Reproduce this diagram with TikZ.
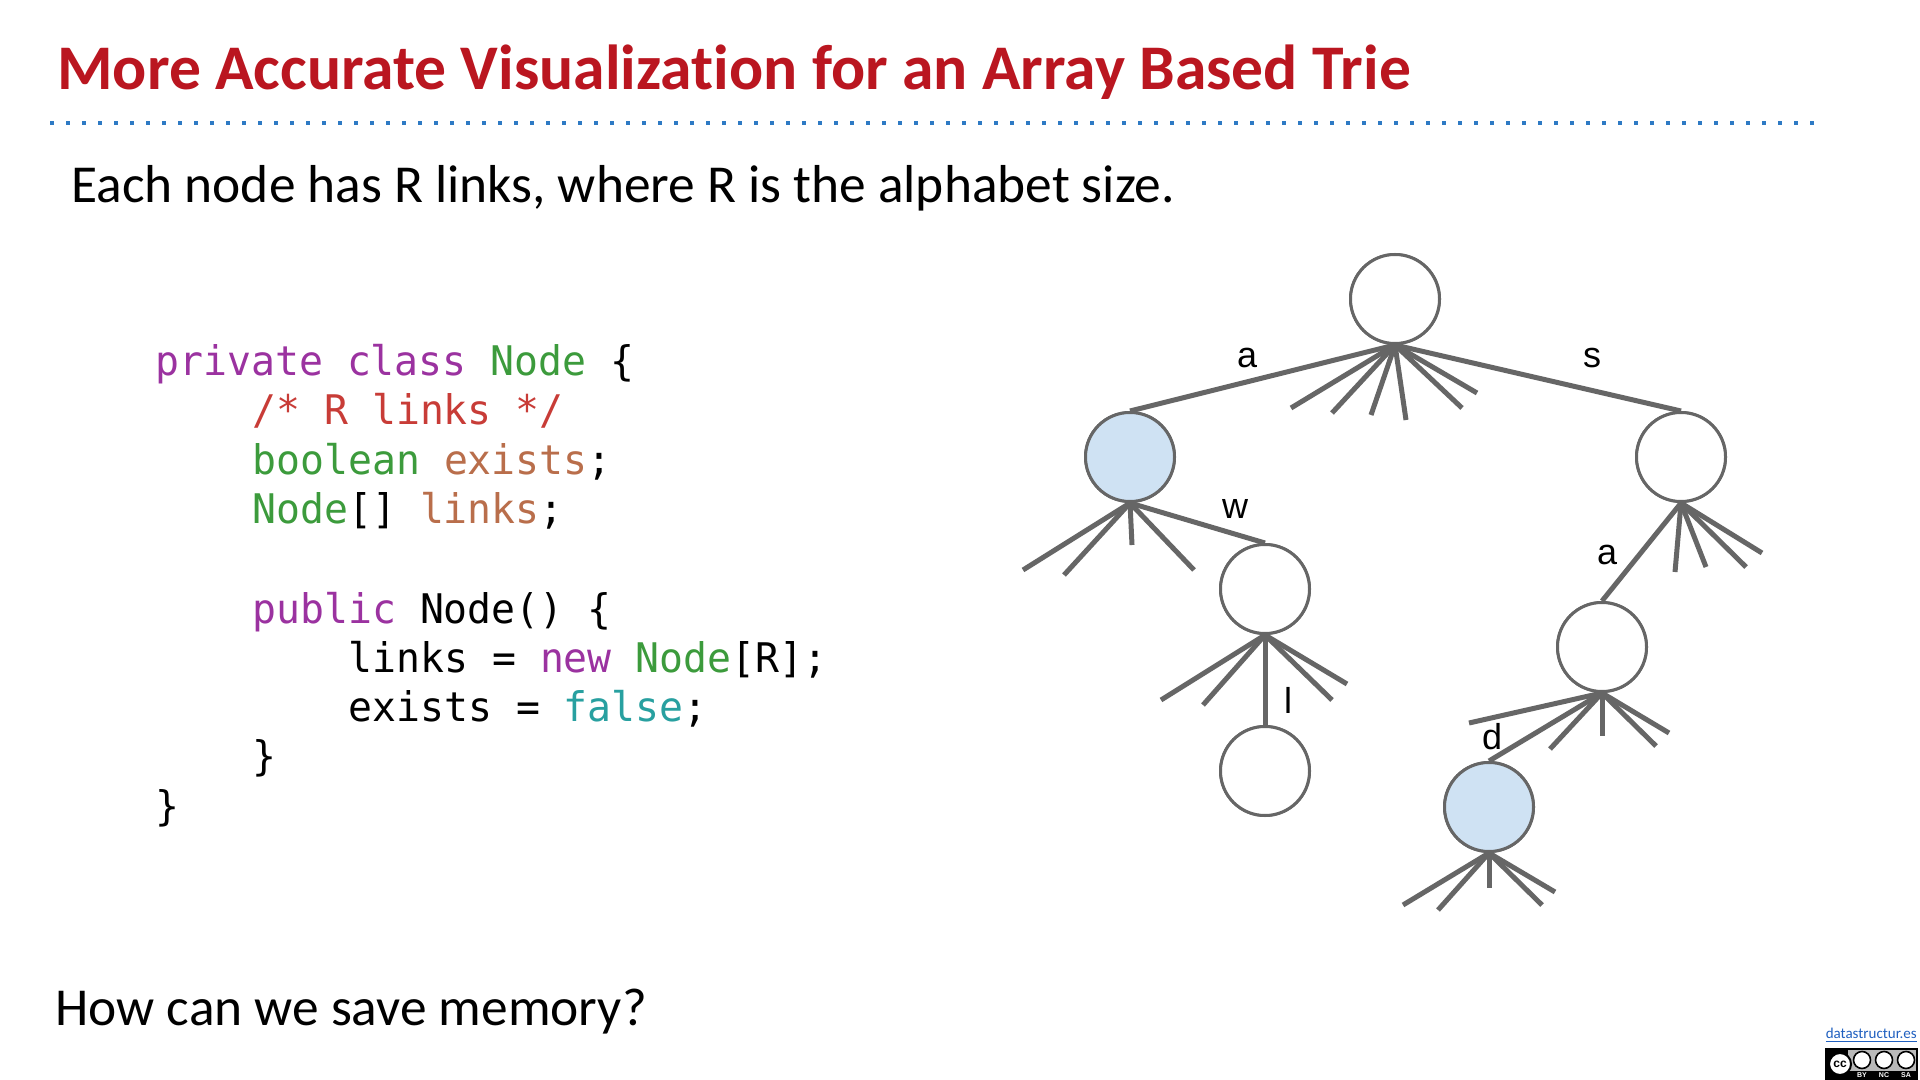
\documentclass[tikz,border=0pt]{standalone}
\usepackage{fontspec}
\setmainfont{Carlito}[Ligatures=NoCommon]
\newfontfamily\codefont{DejaVu Sans Mono}[FakeStretch=0.975]
\newfontfamily\labelfont{Liberation Sans}
\definecolor{titlered}{RGB}{186,22,32}
\definecolor{dotblue}{RGB}{46,122,196}
\definecolor{edgegray}{RGB}{102,102,102}
\definecolor{nodeblue}{RGB}{207,226,243}
\definecolor{kwpurple}{RGB}{155,50,160}
\definecolor{tygreen}{RGB}{60,155,60}
\definecolor{cmtred}{RGB}{200,60,55}
\definecolor{varbrown}{RGB}{185,110,75}
\definecolor{litteal}{RGB}{40,160,160}
\definecolor{linkblue}{RGB}{32,96,192}
\begin{document}
\begin{tikzpicture}[x=0.5pt,y=-0.5pt,
  trienode/.style={circle, draw=edgegray, line width=1.5pt, minimum size=44.5pt, inner sep=0pt, fill=white},
  filled/.style={fill=nodeblue},
  link/.style={draw=edgegray, line width=2.5pt},
  lbl/.style={font=\labelfont\fontsize{18}{20}\selectfont, inner sep=0pt},
  codeline/.style={anchor=base west, inner sep=0pt, font=\codefont\fontsize{20.4}{24.7}\selectfont},
  bodytext/.style={anchor=base west, inner sep=0pt, font=\fontsize{26.7}{30}\selectfont}]
\useasboundingbox (0,0) rectangle (1920,1080);
\fill[white] (0,0) rectangle (1920,1080);

% title and rule
\node[anchor=base west, inner sep=0pt, font=\fontsize{31.8}{36}\selectfont\bfseries, text=titlered] (title) at (57,90) {More Accurate Visualization for an Array Based Trie};
\coordinate (ruleL) at (50,123);
\coordinate (ruleR) at (1816,123);
\draw[dotblue, line width=2pt, dash pattern=on 2pt off 6pt] (ruleL) -- (ruleR);

\node[bodytext] (sub) at (71,203) {Each node has R links, where R is the alphabet size.};
\node[bodytext] (ask) at (55,1025) {How can we save memory?};

% code
\node[codeline] (c1) at (155,375) {\textcolor{kwpurple}{private} \textcolor{kwpurple}{class} \textcolor{tygreen}{Node} \{};
\node[codeline] (c2) at (252,424) {\textcolor{cmtred}{/* R links */}};
\node[codeline] (c3) at (252,474) {\textcolor{tygreen}{boolean} \textcolor{varbrown}{exists};};
\node[codeline] (c4) at (252,523) {\textcolor{tygreen}{Node}[] \textcolor{varbrown}{links};};
\node[codeline] (c5) at (252,623) {\textcolor{kwpurple}{public} Node() \{};
\node[codeline] (c6) at (348,672) {links = \textcolor{kwpurple}{new} \textcolor{tygreen}{Node}[R];};
\node[codeline] (c7) at (348,721) {exists = \textcolor{litteal}{false};};
\node[codeline] (c8) at (252,770) {\}};
\node[codeline] (c9) at (155,820) {\}};

% trie nodes
\node[trienode] (root) at (1395,299) {};
\node[trienode, filled] (na) at (1130,457) {};
\node[trienode] (ns) at (1681,457) {};
\node[trienode] (naw) at (1265,589) {};
\node[trienode] (nawl) at (1265,771) {};
\node[trienode] (nsa) at (1602,647) {};
\node[trienode, filled] (nsad) at (1489,807) {};

% labelled links
\draw[link] (root.south) -- (na.north);
\draw[link] (root.south) -- (ns.north);
\draw[link] (na.south) -- (naw.north);
\draw[link] (naw.south) -- (nawl.north);
\draw[link] (ns.south) -- (nsa.north);
\draw[link] (nsa.south) -- (nsad.north);

% null-link stubs
\foreach \dx/\dy in {-104/63,-63/68,-24/70,11/75,67/63,82/48}
  \draw[link] (root.south) -- ++(\dx,\dy);
\foreach \dx/\dy in {-107/67,-66/72,2/42,64/67}
  \draw[link] (na.south) -- ++(\dx,\dy);
\foreach \dx/\dy in {-6/69,25/64,65/64,81/50}
  \draw[link] (ns.south) -- ++(\dx,\dy);
\foreach \dx/\dy in {-104/65,-62/70,67/65,82/49}
  \draw[link] (naw.south) -- ++(\dx,\dy);
\foreach \dx/\dy in {-133/30,-52/56,0/43,54/53,67/40}
  \draw[link] (nsa.south) -- ++(\dx,\dy);
\foreach \dx/\dy in {-86/52,-51/57,0/35,53/52,66/39}
  \draw[link] (nsad.south) -- ++(\dx,\dy);

% redraw nodes above the stubs
\node[trienode] at (root) {};
\node[trienode, filled] at (na) {};
\node[trienode] at (ns) {};
\node[trienode] at (naw) {};
\node[trienode] at (nawl) {};
\node[trienode] at (nsa) {};
\node[trienode, filled] at (nsad) {};

% link labels
\node[lbl] (la) at (1247,358) {a};
\node[lbl] (ls) at (1592,358) {s};
\node[lbl] (lw) at (1235,509) {w};
\node[lbl] (la2) at (1607,555) {a};
\node[lbl] (ll) at (1288,700) {l};
\node[lbl] (ld) at (1492,737) {d};

% footer link and licence badge
\node[anchor=base east, inner sep=0pt, font=\fontsize{7.5}{9}\selectfont, text=linkblue] (site) at (1917,1038) {\underline{datastructur.es}};
\fill[black] (1825,1048) rectangle (1918,1080);
\fill[gray!55] (1848,1050) rectangle (1916,1071);
\node[circle, fill=white, draw=black, line width=1pt, minimum size=11pt, inner sep=0pt, font=\labelfont\bfseries\fontsize{6}{6}\selectfont] (cc) at (1840,1064) {cc};
\foreach \xx in {1862,1884,1906}
  \node[circle, fill=white, draw=black, line width=0.8pt, minimum size=8.5pt, inner sep=0pt] at (\xx,1060) {};
\node[inner sep=0pt, font=\labelfont\bfseries\fontsize{3.5}{4}\selectfont, text=white] (by) at (1862,1075) {BY};
\node[inner sep=0pt, font=\labelfont\bfseries\fontsize{3.5}{4}\selectfont, text=white] (nc) at (1884,1075) {NC};
\node[inner sep=0pt, font=\labelfont\bfseries\fontsize{3.5}{4}\selectfont, text=white] (sa) at (1906,1075) {SA};
\end{tikzpicture}
\end{document}
